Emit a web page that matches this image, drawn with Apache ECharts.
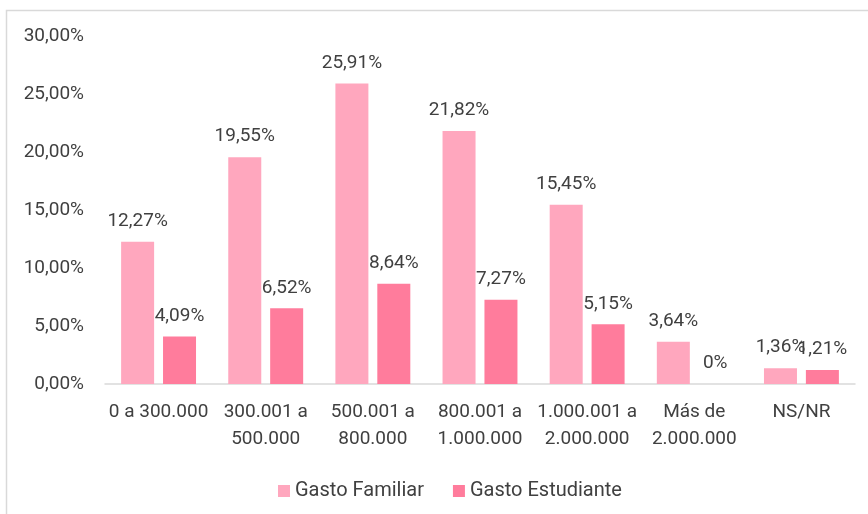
<!DOCTYPE html>
<html>
<head>
<meta charset="utf-8">
<script src="https://cdn.jsdelivr.net/npm/echarts@6/dist/echarts.min.js"></script>
<style>
  html, body { margin: 0; padding: 0; background: #fff; }
  #chart { width: 868px; height: 514px; }
</style>
</head>
<body>
<div id="chart"></div>
<script>
// rangos de gasto
const categories = [
  "0 a 300.000",
  "300.001 a\n500.000",
  "500.001 a\n800.000",
  "800.001 a\n1.000.000",
  "1.000.001 a\n2.000.000",
  "Más de\n2.000.000",
  "NS/NR"
];
const gastoFamiliar = [12.27, 19.55, 25.91, 21.82, 15.45, 3.64, 1.36];
const gastoEstudiante = [4.09, 6.52, 8.64, 7.27, 5.15, 0, 1.21];

const textColor = "#404040";
const fontFamily = "Roboto, 'Noto Sans', sans-serif";
const fs = 19;

// 12.27 -> "12,27%", 0 -> "0%"
function pct(v) {
  if (v === 0) return "0%";
  return v.toFixed(2).replace(".", ",") + "%";
}

const chart = echarts.init(document.getElementById("chart"));

const barLabel = {
  show: true,
  position: "top",
  distance: 11,
  color: textColor,
  fontSize: fs,
  fontFamily: fontFamily,
  formatter: (p) => pct(p.value)
};

chart.setOption({
  animation: false,
  textStyle: { fontFamily: fontFamily },
  graphic: [
    {
      type: "rect",
      shape: { x: 6.5, y: 10.5, width: 900, height: 600 },
      style: { fill: "none", stroke: "#d9d9d9", lineWidth: 1.5 },
      silent: true
    }
  ],
  grid: { left: 105, right: 13, top: 36, bottom: 130 },
  legend: {
    top: 476,
    left: 273,
    itemWidth: 12,
    itemHeight: 12,
    itemGap: 29,
    icon: "rect",
    textStyle: { color: textColor, fontSize: 20, fontFamily: fontFamily },
    data: ["Gasto Familiar", "Gasto Estudiante"]
  },
  xAxis: {
    type: "category",
    data: categories,
    axisLine: { lineStyle: { color: "#d9d9d9", width: 1.5 } },
    axisTick: { show: false },
    axisLabel: {
      color: textColor,
      fontSize: fs,
      lineHeight: 27,
      margin: 15,
      interval: 0,
      fontFamily: fontFamily
    }
  },
  yAxis: {
    type: "value",
    min: 0,
    max: 30,
    interval: 5,
    splitLine: { show: false },
    axisLine: { show: false },
    axisTick: { show: false },
    axisLabel: {
      color: textColor,
      fontSize: fs,
      margin: 21,
      fontFamily: fontFamily,
      formatter: (v) => v.toFixed(2).replace(".", ",") + "%"
    }
  },
  series: [
    {
      name: "Gasto Familiar",
      type: "bar",
      data: gastoFamiliar,
      barWidth: 33,
      barGap: "27%",
      itemStyle: { color: "#FFA7BE" },
      label: barLabel
    },
    {
      name: "Gasto Estudiante",
      type: "bar",
      data: gastoEstudiante,
      barWidth: 33,
      barGap: "27%",
      itemStyle: { color: "#FF7C9C" },
      label: barLabel
    }
  ]
});
</script>
</body>
</html>
